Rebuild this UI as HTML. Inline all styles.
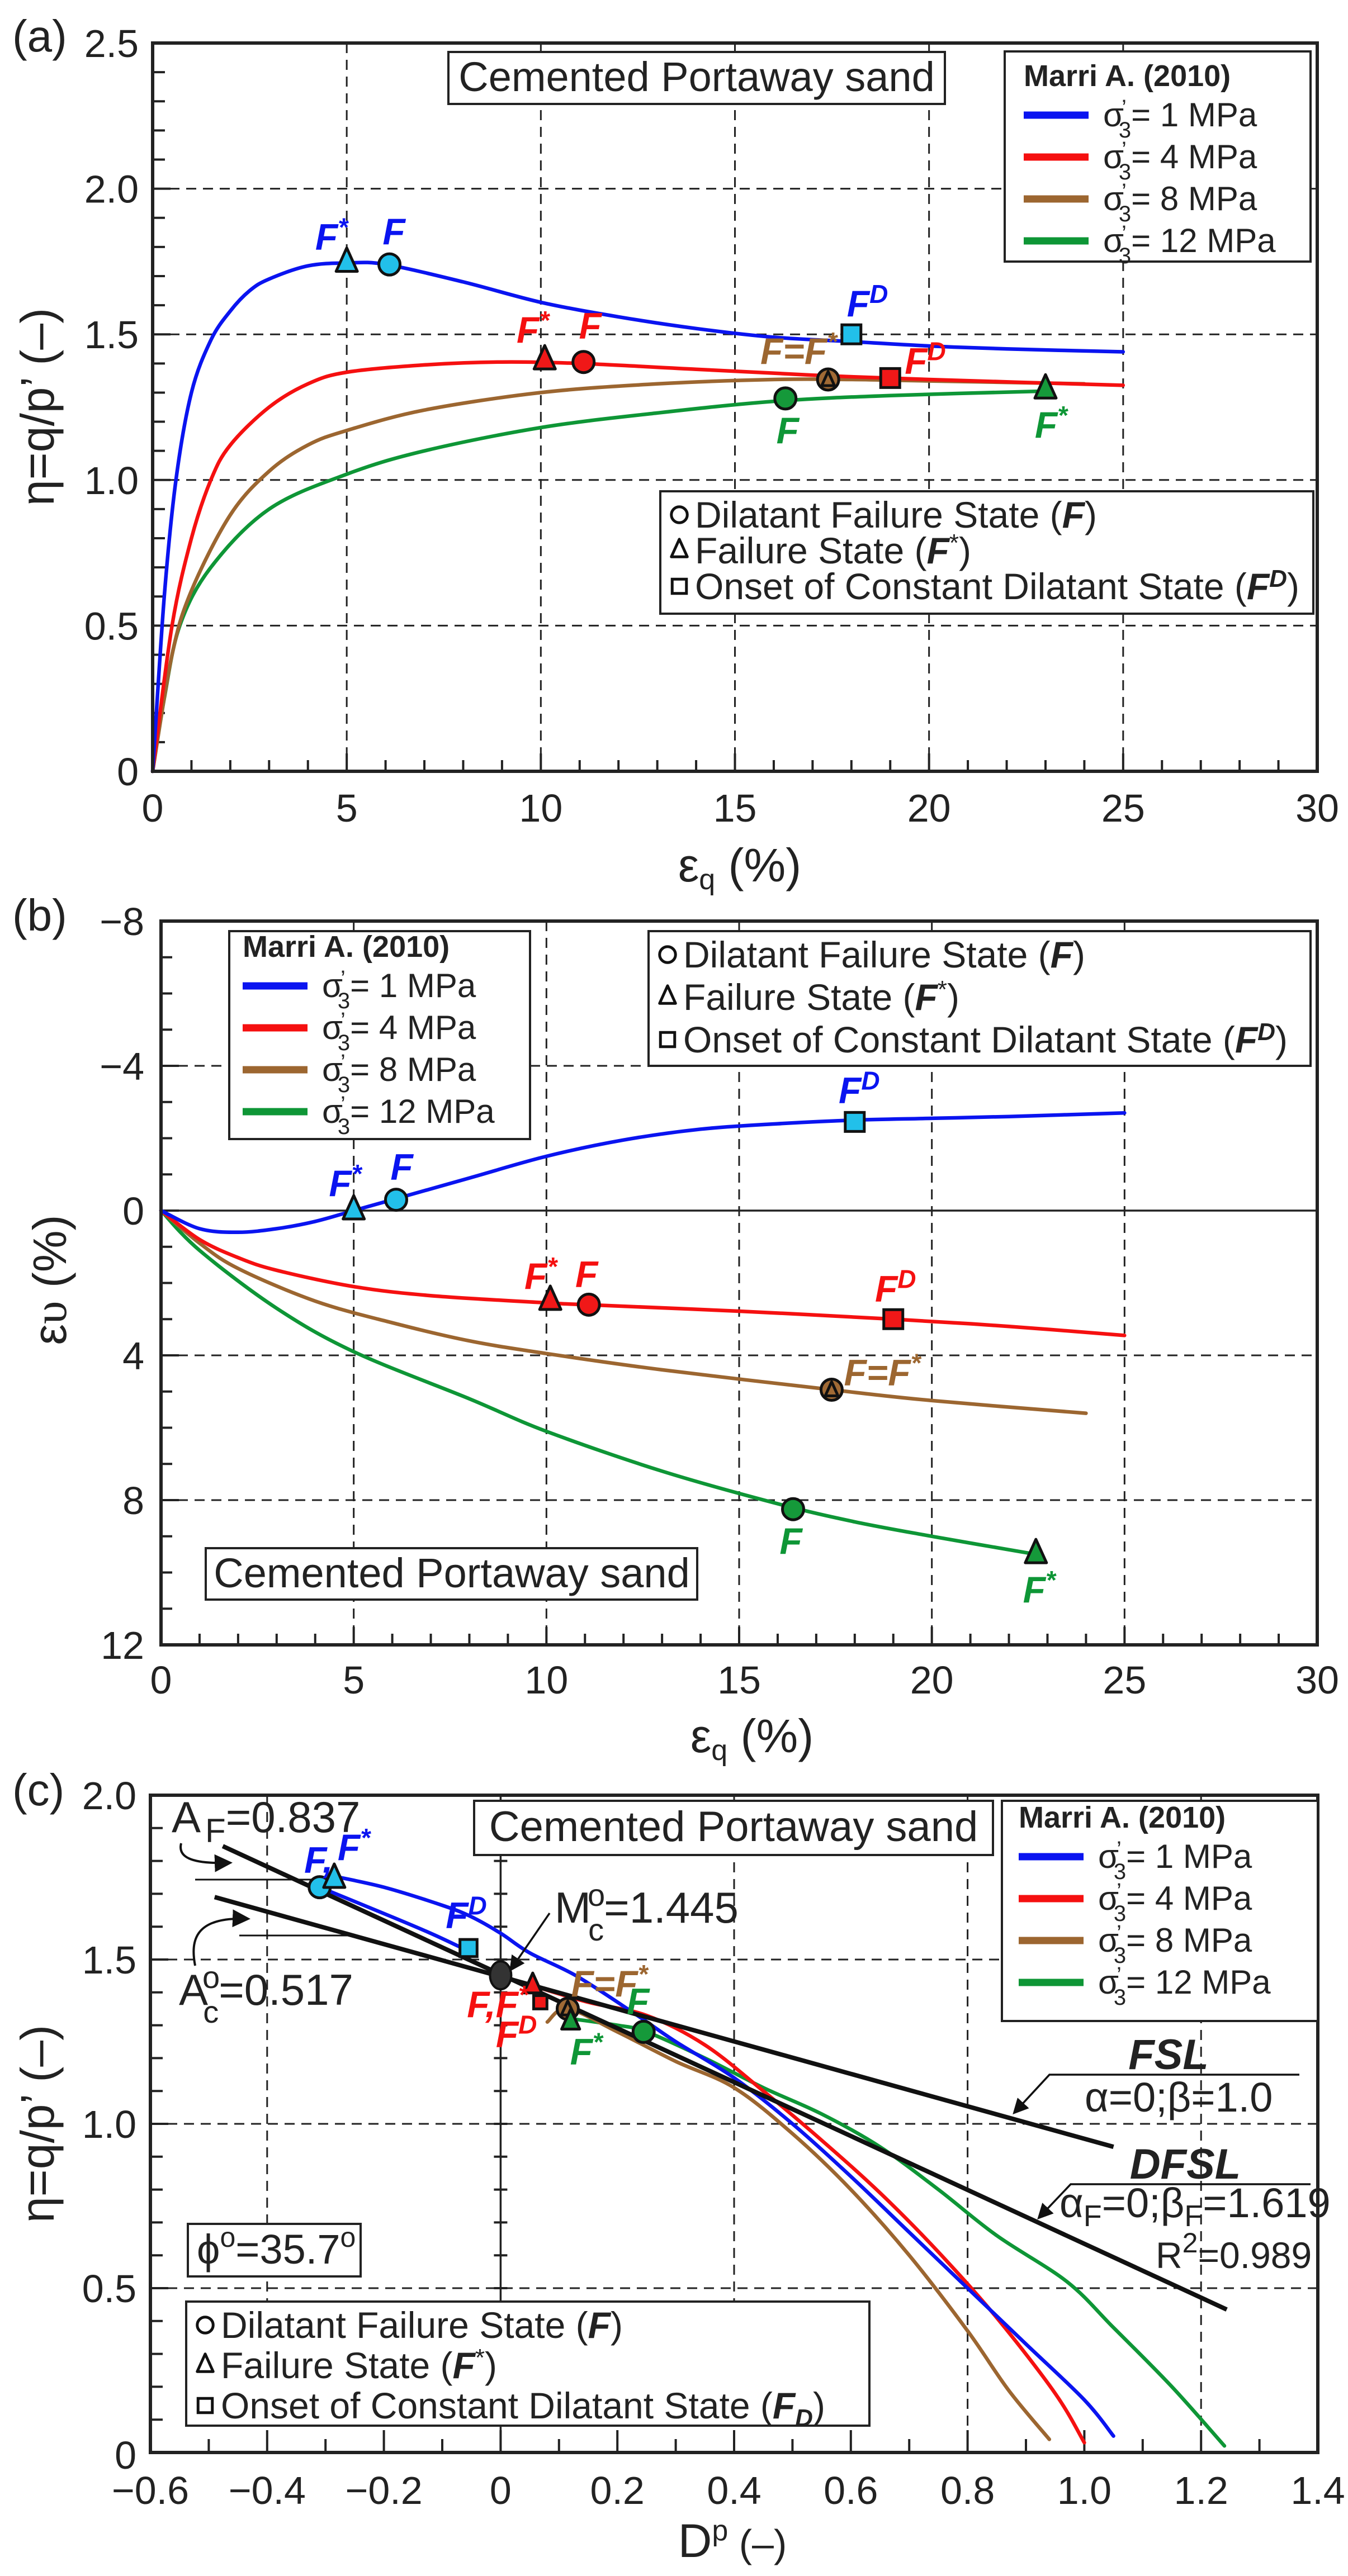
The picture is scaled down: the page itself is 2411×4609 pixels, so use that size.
<!DOCTYPE html>
<html><head><meta charset="utf-8">
<style>
html,body{margin:0;padding:0;background:#fff;}
svg{display:block;font-family:"Liberation Sans",Arial,sans-serif;}
</style></head>
<body>
<svg id="fig" xmlns="http://www.w3.org/2000/svg" width="2411" height="4609" viewBox="0 0 2411 4609">
<rect width="2411" height="4609" fill="#fff"/>
</svg>
<script>
// ---------------- DATA ----------------
const aBlueX=[0,0.3,0.6,1,1.5,2,2.5,3,4,5,6,8,10,12,14,16,18,20,22,25];
const aBlueY=[0,0.6,1.0,1.3,1.48,1.58,1.65,1.69,1.735,1.745,1.74,1.68,1.61,1.56,1.52,1.49,1.475,1.46,1.45,1.44];
const aRedX=[0,0.5,1,1.5,2,3,4,5,7,9,11,14,17,20,25];
const aRedY=[0,0.5,0.8,1.0,1.12,1.25,1.33,1.37,1.395,1.405,1.4,1.38,1.36,1.345,1.325];
const aBrownX=[0,0.5,1,2,3,4,5,7,10,13,16,18,20,24];
const aBrownY=[0,0.4,0.62,0.88,1.03,1.12,1.17,1.24,1.3,1.33,1.345,1.345,1.34,1.33];
const aGreenX=[0,0.3,0.7,1.5,3,5,7,10,13,16,19,23];
const aGreenY=[0,0.25,0.5,0.7,0.9,1.02,1.1,1.18,1.23,1.27,1.29,1.305];
const aTicksX=[0,5,10,15,20,25,30];
const aTicksY=[0,0.5,1.0,1.5,2.0,2.5];
const aTickLabelsY=["0","0.5","1.0","1.5","2.0","2.5"];
const bBlueX=[0,1,2,3,4,5,6,8,10,12,14,16,18,20,22,25];
const bBlueY=[0,0.5,0.6,0.5,0.3,0,-0.3,-0.9,-1.5,-1.95,-2.25,-2.4,-2.5,-2.55,-2.6,-2.7];
const bRedX=[0,1,2,3,5,7,10,11,15,19,22,25];
const bRedY=[0,0.8,1.3,1.65,2.1,2.35,2.55,2.6,2.78,3.0,3.2,3.45];
const bBrownX=[0,1,2,4,6,8,10,13,17.4,20,24];
const bBrownY=[0,0.9,1.6,2.5,3.1,3.6,3.95,4.4,4.95,5.25,5.6];
const bGreenX=[0,1,3,5,8,10,13,16,18,20,22.7];
const bGreenY=[0,1.1,2.7,3.9,5.2,6.1,7.2,8.1,8.6,9.0,9.5];
const bTicksX=[0,5,10,15,20,25,30];
const bTicksY=[-8,-4,0,4,8,12];
const bTickLabelsY=["\u22128","\u22124","0","4","8","12"];
const cBlueX=[-0.29,-0.2,-0.1,-0.05,0,0.05,0.13,0.23,0.3,0.4,0.5,0.6,0.7,0.8,0.9,1.0,1.05];
const cBlueY=[1.755,1.72,1.665,1.63,1.58,1.52,1.45,1.335,1.25,1.14,1.0,0.84,0.67,0.5,0.33,0.16,0.05];
const cBlue2X=[-0.31,-0.2,-0.12,-0.06];
const cBlue2Y=[1.72,1.64,1.58,1.53];
const cRedX=[0.055,0.15,0.25,0.35,0.45,0.55,0.65,0.75,0.85,0.95,1.0];
const cRedY=[1.42,1.37,1.33,1.24,1.1,0.95,0.79,0.61,0.41,0.18,0.03];
const cBrownX=[0.08,0.115,0.2,0.3,0.4,0.5,0.6,0.7,0.8,0.87,0.94];
const cBrownY=[1.31,1.35,1.28,1.19,1.11,0.97,0.8,0.6,0.37,0.19,0.04];
const cGreenX=[0.12,0.2,0.25,0.35,0.45,0.55,0.65,0.75,0.85,0.97,1.05,1.15,1.24];
const cGreenY=[1.32,1.3,1.28,1.2,1.11,1.03,0.93,0.8,0.66,0.52,0.38,0.2,0.02];
const cFslX=[-0.49,1.05];
const cFslY=[1.69,0.93];
const cDfslX=[-0.476,1.244];
const cDfslY=[1.845,0.435];
const cTicksX=[-0.6,-0.4,-0.2,0,0.2,0.4,0.6,0.8,1.0,1.2,1.4];
const cTickLabelsX=["\u22120.6","\u22120.4","\u22120.2","0","0.2","0.4","0.6","0.8","1.0","1.2","1.4"];
const cTicksY=[0,0.5,1.0,1.5,2.0];
const cTickLabelsY=["0","0.5","1.0","1.5","2.0"];
const aMarkX=[5,6.1,18,10.1,11.1,19,17.4,16.3,23];
const aMarkY=[1.745,1.74,1.5,1.41,1.405,1.35,1.345,1.28,1.31];
const bMarkX=[5,6.1,18,10.1,11.1,19,17.4,16.4,22.7];
const bMarkY=[0,-0.3,-2.45,2.5,2.6,3.0,4.95,8.25,9.5];
const cMarkX=[-0.31,-0.285,-0.055,0,0.055,0.068,0.115,0.12,0.245];
const cMarkY=[1.72,1.745,1.535,1.452,1.42,1.37,1.35,1.31,1.28];

// -------------- STYLE --------------
const COL={blue:"#0a14f0",red:"#f51010",brown:"#9c6630",green:"#0e9636",black:"#111"};
const FILL={blue:"#22c0ea",red:"#f01818",brown:"#a06a35",green:"#15993a",black:"#333"};
const NS="http://www.w3.org/2000/svg";
const svg=document.getElementById('fig');
function el(tag,attrs,parent){const e=document.createElementNS(NS,tag);for(const k in attrs)e.setAttribute(k,attrs[k]);(parent||svg).appendChild(e);return e;}
function txt(s,x,y,size,opts,parent){opts=opts||{};const t=el('text',{x:x,y:y,'font-size':size,fill:opts.fill||'#222','text-anchor':opts.anchor||'start','font-weight':opts.bold?'bold':'normal','font-style':opts.italic?'italic':'normal'},parent);t.innerHTML=s;return t;}
function makeAxes(L,R,T,B,x0,x1,y0,y1,invert){
  return {L,R,T,B,
    sx:v=>L+(v-x0)/(x1-x0)*(R-L),
    sy:v=>invert? T+(v-y0)/(y1-y0)*(B-T) : B-(v-y0)/(y1-y0)*(B-T)};
}
function smoothPath(pts){
  let d="M"+pts[0][0].toFixed(1)+","+pts[0][1].toFixed(1);
  for(let i=0;i<pts.length-1;i++){
    const p0=pts[Math.max(0,i-1)],p1=pts[i],p2=pts[i+1],p3=pts[Math.min(pts.length-1,i+2)];
    const c1=[p1[0]+(p2[0]-p0[0])/6,p1[1]+(p2[1]-p0[1])/6];
    const c2=[p2[0]-(p3[0]-p1[0])/6,p2[1]-(p3[1]-p1[1])/6];
    d+=" C"+c1[0].toFixed(1)+","+c1[1].toFixed(1)+" "+c2[0].toFixed(1)+","+c2[1].toFixed(1)+" "+p2[0].toFixed(1)+","+p2[1].toFixed(1);
  }
  return d;
}
function series(ax,xs,ys,color,name,g){
  const pts=xs.map((x,i)=>[ax.sx(x),ax.sy(ys[i])]);
  const p=el('path',{d:smoothPath(pts),fill:'none',stroke:color,'stroke-width':6.5,'stroke-linejoin':'round','stroke-linecap':'round'},g);
  
  
  return p;
}
function marker(type,x,y,fill,name,g,s){
  s=s||1;let m;
  if(type==='c') m=el('circle',{cx:x,cy:y,r:19*s,fill:fill,stroke:'#111','stroke-width':5},g);
  else if(type==='t') m=el('polygon',{points:`${x},${y-27*s} ${x-19*s},${y+15*s} ${x+19*s},${y+15*s}`,fill:fill,stroke:'#111','stroke-width':5,'stroke-linejoin':'round'},g);
  else m=el('rect',{x:x-17*s,y:y-17*s,width:34*s,height:34*s,fill:fill,stroke:'#111','stroke-width':5},g);
  
  
  return m;
}
function flabel(html,x,y,color,anchor,g,size){
  const t=txt(html,x,y,size||66,{fill:color,bold:true,italic:true,anchor:anchor||'middle'},g);
  
  
}
const STAR='<tspan font-size="46" dy="-24">*</tspan>';
const SUPD='<tspan font-size="46" dy="-24">D</tspan>';
function frame(ax,g){
  const r=el('rect',{x:ax.L,y:ax.T,width:ax.R-ax.L,height:ax.B-ax.T,fill:'none',stroke:'#222','stroke-width':6},g);
  
  
}
function gridV(ax,xp,g,solid){el('line',{x1:xp,y1:ax.T,x2:xp,y2:ax.B,stroke:'#222','stroke-width':solid?3.5:3,'stroke-dasharray':solid?'none':'18,12'},g);}
function gridH(ax,yp,g,solid){el('line',{x1:ax.L,y1:yp,x2:ax.R,y2:yp,stroke:'#222','stroke-width':solid?3.5:3,'stroke-dasharray':solid?'none':'18,12'},g);}
function tickX(ax,xp,len,g){el('line',{x1:xp,y1:ax.B,x2:xp,y2:ax.B-len,stroke:'#222','stroke-width':4},g);}
function tickY(ax,yp,len,g){el('line',{x1:ax.L,y1:yp,x2:ax.L+len,y2:yp,stroke:'#222','stroke-width':4},g);}
function box(x,y,w,h,name,g){const r=el('rect',{x:x,y:y,width:w,height:h,fill:'#fff',stroke:'#222','stroke-width':4},g);return r;}
function sigmaLegend(x,y,g){
  const gg=el('g',{},g);
  
  
  txt('Marri A. (2010)',x+34,y+62,54,{bold:true},gg);
  const cols=[COL.blue,COL.red,COL.brown,COL.green];const labs=['1','4','8','12'];
  for(let i=0;i<4;i++){
    const yy=y+114+i*75;
    const ln=el('line',{x1:x+34,y1:yy,x2:x+150,y2:yy,stroke:cols[i],'stroke-width':13},gg);
    
    
    const t=txt(`σ<tspan font-size="40" dy="-20" dx="-4">’</tspan><tspan font-size="40" dx="-14" dy="40">3</tspan><tspan dy="-20">= ${labs[i]} MPa</tspan>`,x+176,yy+20,60,{},gg);
    
    
  }
}
function markerLegend(x,y,w,h,rowGap,g,fd){
  const gg=el('g',{},g);
  
  
  box(x,y,w,h,'marker-legend-box',gg);
  const rows=['Dilatant Failure State (<tspan font-weight="bold" font-style="italic">F</tspan>)',
   'Failure State (<tspan font-weight="bold" font-style="italic">F</tspan><tspan font-size="44" dy="-22">*</tspan><tspan dy="22">)</tspan>',
   'Onset of Constant Dilatant State ('+fd];
  const types=['c','t','s'];
  for(let i=0;i<3;i++){
    const cy=y+42+i*rowGap;
    marker(types[i],x+34,cy,'none','marker-legend-symbol',gg,0.75);
    const t=txt(rows[i],x+62,cy+23,66,{},gg);
    
    
  }
}
const FD_SUP='<tspan font-weight="bold" font-style="italic">F</tspan><tspan font-weight="bold" font-style="italic" font-size="44" dy="-22">D</tspan><tspan dy="22">)</tspan>';
const FD_SUB='<tspan font-weight="bold" font-style="italic">F</tspan><tspan font-weight="bold" font-style="italic" font-size="44" dy="14">D</tspan><tspan dy="-14">)</tspan>';

// ================= PANEL A =================
(function(){
  const g=el('g',{});
  const ax=makeAxes(273,2356,77,1380,0,30,0,2.5,false);
  aTicksX.slice(1,-1).forEach(v=>gridV(ax,ax.sx(v),g));
  aTicksY.slice(1,-1).forEach(v=>gridH(ax,ax.sy(v),g));
  for(let v=0;v<=30;v++){tickX(ax,ax.sx(v),v%5===0?32:20,g);}
  for(let i=0;i<=25;i++){tickY(ax,ax.sy(i/10),i%5===0?32:22,g);}
  aTicksX.forEach(v=>{const t=txt(String(v),ax.sx(v),1470,70,{anchor:'middle'},g);});
  aTicksY.forEach((v,i)=>{const t=txt(aTickLabelsY[i],248,ax.sy(v)+25,70,{anchor:'end'},g);});
  series(ax,aGreenX,aGreenY,COL.green,'series-12mpa',g);
  series(ax,aBrownX,aBrownY,COL.brown,'series-8mpa',g);
  series(ax,aRedX,aRedY,COL.red,'series-4mpa',g);
  series(ax,aBlueX,aBlueY,COL.blue,'series-1mpa',g);
  frame(ax,g);
  const P=i=>[ax.sx(aMarkX[i]),ax.sy(aMarkY[i])];
  let p;
  p=P(0);marker('t',p[0],p[1],FILL.blue,'marker-blue-fstar',g);flabel('F'+STAR,p[0]+2,p[1]-24,COL.blue,'end',g);
  p=P(1);marker('c',p[0],p[1],FILL.blue,'marker-blue-f',g);flabel('F',p[0]+8,p[1]-36,COL.blue,'middle',g);
  p=P(2);marker('s',p[0],p[1],FILL.blue,'marker-blue-fd',g);flabel('F'+SUPD,p[0]-8,p[1]-32,COL.blue,'start',g);
  p=P(3);marker('t',p[0],p[1],FILL.red,'marker-red-fstar',g);flabel('F'+STAR,p[0]+8,p[1]-32,COL.red,'end',g);
  p=P(4);marker('c',p[0],p[1],FILL.red,'marker-red-f',g);flabel('F',p[0]+12,p[1]-42,COL.red,'middle',g);
  p=P(5);marker('s',p[0],p[1],FILL.red,'marker-red-fd',g);flabel('F'+SUPD,p[0]+26,p[1]-8,COL.red,'start',g);
  p=P(6);marker('c',p[0],p[1],FILL.brown,'marker-brown-f',g);marker('t',p[0],p[1]+2,FILL.brown,'marker-brown-fstar',g,0.6);flabel('F=F'+STAR,p[0]+16,p[1]-28,COL.brown,'end',g);
  p=P(7);marker('c',p[0],p[1],FILL.green,'marker-green-f',g);flabel('F',p[0]+4,p[1]+80,COL.green,'middle',g);
  p=P(8);marker('t',p[0],p[1],FILL.green,'marker-green-fstar',g);flabel('F'+STAR,p[0]+10,p[1]+86,COL.green,'middle',g);
  box(802,93,888,93,'title-box',g);
  txt('Cemented Portaway sand',1246,163,74,{anchor:'middle'},g);
  box(1797,92,547,376,'legend-box',g);
  sigmaLegend(1797,92,g);
  markerLegend(1181,879,1168,219,64,g,FD_SUP);
  txt('(a)',22,92,80,{},g);
  const yl=txt('η=q/p’ (–)',0,0,84,{anchor:'middle'},g);yl.setAttribute('transform','translate(96,728) rotate(-90)');
  txt('ε<tspan font-size="52" dy="14">q</tspan><tspan dy="-14"> (%)</tspan>',1323,1577,84,{anchor:'middle'},g);
})();

// ================= PANEL B =================
(function(){
  const g=el('g',{});
  const ax=makeAxes(288,2356,1648,2943,0,30,-8,12,true);
  bTicksX.slice(1,-1).forEach(v=>gridV(ax,ax.sx(v),g));
  bTicksY.slice(1,-1).forEach(v=>gridH(ax,ax.sy(v),g,v===0));
  for(let v=0;v<=30;v++){tickX(ax,ax.sx(v),v%5===0?32:20,g);}
  for(let v=-8;v<=12;v++){tickY(ax,ax.sy(v),v%4===0?32:20,g);}
  bTicksX.forEach(v=>{const t=txt(String(v),ax.sx(v),3030,70,{anchor:'middle'},g);});
  bTicksY.forEach((v,i)=>{const t=txt(bTickLabelsY[i],258,ax.sy(v)+25,70,{anchor:'end'},g);});
  series(ax,bGreenX,bGreenY,COL.green,'series-12mpa',g);
  series(ax,bBrownX,bBrownY,COL.brown,'series-8mpa',g);
  series(ax,bRedX,bRedY,COL.red,'series-4mpa',g);
  series(ax,bBlueX,bBlueY,COL.blue,'series-1mpa',g);
  frame(ax,g);
  const P=i=>[ax.sx(bMarkX[i]),ax.sy(bMarkY[i])];
  let p;
  p=P(0);marker('t',p[0],p[1],FILL.blue,'marker-blue-fstar',g);flabel('F'+STAR,p[0]+14,p[1]-26,COL.blue,'end',g);
  p=P(1);marker('c',p[0],p[1],FILL.blue,'marker-blue-f',g);flabel('F',p[0]+10,p[1]-36,COL.blue,'middle',g);
  p=P(2);marker('s',p[0],p[1],FILL.blue,'marker-blue-fd',g);flabel('F'+SUPD,p[0]+8,p[1]-34,COL.blue,'middle',g);
  p=P(3);marker('t',p[0],p[1],FILL.red,'marker-red-fstar',g);flabel('F'+STAR,p[0]+12,p[1]-22,COL.red,'end',g);
  p=P(4);marker('c',p[0],p[1],FILL.red,'marker-red-f',g);flabel('F',p[0]-4,p[1]-32,COL.red,'middle',g);
  p=P(5);marker('s',p[0],p[1],FILL.red,'marker-red-fd',g);flabel('F'+SUPD,p[0]+4,p[1]-32,COL.red,'middle',g);
  p=P(6);marker('c',p[0],p[1],FILL.brown,'marker-brown-f',g);marker('t',p[0],p[1]+2,FILL.brown,'marker-brown-fstar',g,0.6);flabel('F=F'+STAR,p[0]+22,p[1]-8,COL.brown,'start',g);
  p=P(7);marker('c',p[0],p[1],FILL.green,'marker-green-f',g);flabel('F',p[0]-4,p[1]+80,COL.green,'middle',g);
  p=P(8);marker('t',p[0],p[1],FILL.green,'marker-green-fstar',g);flabel('F'+STAR,p[0]+6,p[1]+86,COL.green,'middle',g);
  box(410,1666,538,372,'legend-box',g);
  sigmaLegend(400,1650,g);
  markerLegend(1160,1666,1184,241,76,g,FD_SUP);
  box(368,2770,879,92,'title-box',g);
  txt('Cemented Portaway sand',808,2840,74,{anchor:'middle'},g);
  txt('(b)',22,1665,80,{},g);
  const yl=txt('ε<tspan font-family="Liberation Serif">υ</tspan> (%)',0,0,84,{anchor:'middle'},g);yl.setAttribute('transform','translate(118,2290) rotate(-90)');
  txt('ε<tspan font-size="52" dy="14">q</tspan><tspan dy="-14"> (%)</tspan>',1345,3135,84,{anchor:'middle'},g);
})();

// ================= PANEL C =================
(function(){
  const g=el('g',{});
  const ax=makeAxes(269,2357,3212,4388,-0.6,1.4,0,2.0,false);
  [-0.4,0.4,0.8,1.2].forEach(v=>gridV(ax,ax.sx(v),g));
  gridV(ax,ax.sx(0),g,true);
  [0.5,1.0,1.5].forEach(v=>gridH(ax,ax.sy(v),g));
  for(let i=-6;i<=14;i++){tickX(ax,ax.sx(i/10),i%2===0?40:24,g);}
  for(let i=0;i<=20;i++){tickY(ax,ax.sy(i/10),i%5===0?32:22,g);}
  for(let i=1;i<20;i++){const yy=ax.sy(i/10);el('line',{x1:ax.sx(0)-12,y1:yy,x2:ax.sx(0)+12,y2:yy,stroke:'#222','stroke-width':4},g);}
  cTicksX.forEach((v,i)=>{const t=txt(cTickLabelsX[i],ax.sx(v),4480,70,{anchor:'middle'},g);});
  cTicksY.forEach((v,i)=>{const t=txt(cTickLabelsY[i],244,ax.sy(v)+25+(v===0?4:0),70,{anchor:'end'},g);});
  series(ax,cGreenX,cGreenY,COL.green,'series-12mpa',g);
  series(ax,cBrownX,cBrownY,COL.brown,'series-8mpa',g);
  series(ax,cRedX,cRedY,COL.red,'series-4mpa',g);
  series(ax,cBlueX,cBlueY,COL.blue,'series-1mpa',g);
  series(ax,cBlue2X,cBlue2Y,COL.blue,'series-1mpa-branch',g);
  const fsl=el('line',{x1:ax.sx(cFslX[0]),y1:ax.sy(cFslY[0]),x2:ax.sx(cFslX[1]),y2:ax.sy(cFslY[1]),stroke:'#111','stroke-width':8},g);
  
  const dfsl=el('line',{x1:ax.sx(cDfslX[0]),y1:ax.sy(cDfslY[0]),x2:ax.sx(cDfslX[1]),y2:ax.sy(cDfslY[1]),stroke:'#111','stroke-width':8},g);
  
  frame(ax,g);
  const P=i=>[ax.sx(cMarkX[i]),ax.sy(cMarkY[i])];
  let p;
  p=P(0);marker('c',p[0],p[1],FILL.blue,'marker-blue-f',g);flabel('F,',p[0]-2,p[1]-26,COL.blue,'middle',g);
  p=P(1);marker('t',p[0],p[1],FILL.blue,'marker-blue-fstar',g);flabel('F'+STAR,p[0]+6,p[1]-34,COL.blue,'start',g);
  p=P(2);marker('s',p[0],p[1],FILL.blue,'marker-blue-fd',g,0.9);flabel('F'+SUPD,p[0]-4,p[1]-36,COL.blue,'middle',g);
  p=P(3);const oc=el('ellipse',{cx:p[0],cy:p[1],rx:19,ry:25,fill:FILL.black,stroke:'#111','stroke-width':4},g);
  p=P(4);marker('t',p[0],p[1],FILL.red,'marker-red-fstar',g,0.85);flabel('F,F'+STAR,p[0]-8,p[1]+56,COL.red,'end',g);
  p=P(5);marker('s',p[0],p[1],FILL.red,'marker-red-fd',g,0.7);flabel('F'+SUPD,p[0]-6,p[1]+80,COL.red,'end',g);
  p=P(6);marker('c',p[0],p[1],FILL.brown,'marker-brown-f',g);marker('t',p[0],p[1]+2,FILL.brown,'marker-brown-fstar',g,0.6);flabel('F=F'+STAR,p[0]+6,p[1]-22,COL.brown,'start',g);
  p=P(7);marker('t',p[0],p[1],FILL.green,'marker-green-fstar',g,0.85);flabel('F'+STAR,p[0]+28,p[1]+76,COL.green,'middle',g);
  p=P(8);marker('c',p[0],p[1],FILL.green,'marker-green-f',g);flabel('F',p[0]-10,p[1]-32,COL.green,'middle',g);
  const an=el('g',{},g);
  el('defs',{},an).innerHTML='<marker id="ah" markerWidth="8" markerHeight="8" refX="6" refY="4" orient="auto" markerUnits="strokeWidth"><path d="M0,0 L8,4 L0,8 z" fill="#111"/></marker>';
  txt('A<tspan font-size="60" dx="8" dy="18">F</tspan><tspan dy="-18">=0.837</tspan>',307,3278,78,{},an);
  el('line',{x1:349,y1:3363,x2:560,y2:3363,stroke:'#111','stroke-width':3},an);
  el('path',{d:'M324,3298 C318,3322 340,3335 408,3333',fill:'none',stroke:'#111','stroke-width':4,'marker-end':'url(#ah)'},an);
  txt('A<tspan font-size="56" dx="-10" dy="-30">o</tspan><tspan font-size="56" dx="-30" dy="62">c</tspan><tspan dy="-32">=0.517</tspan>',320,3587,78,{},an);
  el('line',{x1:428,y1:3463,x2:639,y2:3463,stroke:'#111','stroke-width':3},an);
  el('path',{d:'M349,3517 C340,3470 350,3430 440,3433',fill:'none',stroke:'#111','stroke-width':4,'marker-end':'url(#ah)'},an);
  txt('M<tspan font-size="56" dx="-6" dy="-30">o</tspan><tspan font-size="56" dx="-30" dy="62">c</tspan><tspan dy="-32">=1.445</tspan>',992,3440,78,{},an);
  el('line',{x1:983,y1:3423,x2:915,y2:3522,stroke:'#111','stroke-width':3.5,'marker-end':'url(#ah)'},an);
  txt('FSL',2090,3702,76,{bold:true,italic:true,anchor:'middle'},an);
  el('polyline',{points:'2324,3712 1877,3712 1816,3778',fill:'none',stroke:'#111','stroke-width':3.5,'marker-end':'url(#ah)'},an);
  txt('α=0;β=1.0',1940,3778,74,{},an);
  txt('DFSL',2120,3898,76,{bold:true,italic:true,anchor:'middle'},an);
  el('polyline',{points:'2344,3908 1915,3908 1860,3966',fill:'none',stroke:'#111','stroke-width':3.5,'marker-end':'url(#ah)'},an);
  txt('α<tspan font-size="54" dy="16">F</tspan><tspan dy="-16">=0;β</tspan><tspan font-size="54" dy="16">F</tspan><tspan dy="-16">=1.619</tspan>',1895,3967,74,{},an);
  txt('R<tspan font-size="50" dy="-28">2</tspan><tspan dy="28">=0.989</tspan>',2067,4058,66,{},an);
  box(336,3979,309,94,'friction-angle-box',g);
  txt('ϕ<tspan font-size="50" dy="-30">o</tspan><tspan dy="30">=35.7</tspan><tspan font-size="50" dy="-30">o</tspan>',352,4050,74,{},g);
  box(848,3222,928,97,'title-box',g);
  txt('Cemented Portaway sand',1312,3294,76,{anchor:'middle'},g);
  box(1792,3222,565,394,'legend-box',g);
  sigmaLegend(1788,3208,g);
  markerLegend(333,4118,1222,222,72,g,FD_SUB);
  txt('(c)',22,3230,80,{},g);
  const yl=txt('η=q/p’ (–)',0,0,84,{anchor:'middle'},g);yl.setAttribute('transform','translate(96,3800) rotate(-90)');
  txt('D<tspan font-size="52" dy="-30">p</tspan><tspan dy="30" font-size="70"> (–)</tspan>',1310,4575,84,{anchor:'middle'},g);
})();
</script>
</body></html>
